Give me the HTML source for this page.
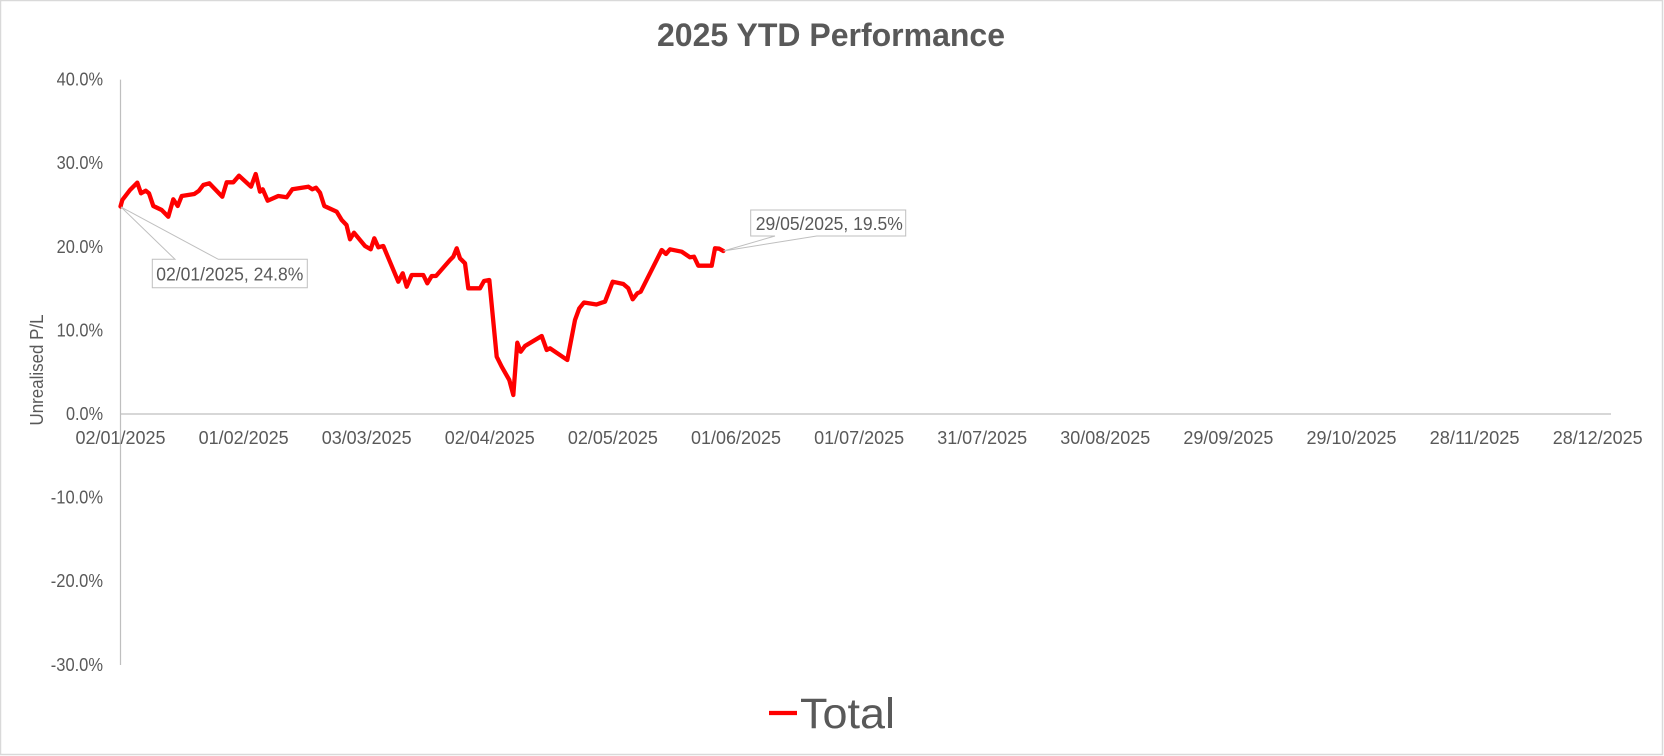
<!DOCTYPE html>
<html>
<head>
<meta charset="utf-8">
<style>
  html, body { margin: 0; padding: 0; background: #ffffff; }
  svg { display: block; }
  text { font-family: "Liberation Sans", "DejaVu Sans", sans-serif; fill: #595959; }
</style>
</head>
<body>
<svg width="1664" height="756" viewBox="0 0 1664 756" xmlns="http://www.w3.org/2000/svg">
  <rect x="0" y="0" width="1664" height="756" fill="#ffffff"/>
  <rect x="0.5" y="0.5" width="1662" height="754" fill="none" stroke="#d9d9d9" stroke-width="1.5"/>

  <!-- Title -->
  <text x="831" y="46" font-size="32" font-weight="bold" text-anchor="middle" textLength="348" lengthAdjust="spacingAndGlyphs">2025 YTD Performance</text>

  <!-- Axis title -->
  <text transform="translate(43,370) rotate(-90)" font-size="18" text-anchor="middle" textLength="111" lengthAdjust="spacingAndGlyphs">Unrealised P/L</text>

  <!-- Y axis labels -->
  <g font-size="18" text-anchor="end">
    <text x="103" y="85.6" textLength="46.4" lengthAdjust="spacingAndGlyphs">40.0%</text>
    <text x="103" y="169.2" textLength="46.4" lengthAdjust="spacingAndGlyphs">30.0%</text>
    <text x="103" y="252.8" textLength="46.4" lengthAdjust="spacingAndGlyphs">20.0%</text>
    <text x="103" y="336.4" textLength="46.4" lengthAdjust="spacingAndGlyphs">10.0%</text>
    <text x="103" y="420" textLength="37" lengthAdjust="spacingAndGlyphs">0.0%</text>
    <text x="103" y="503.6" textLength="52.2" lengthAdjust="spacingAndGlyphs">-10.0%</text>
    <text x="103" y="587.2" textLength="52.2" lengthAdjust="spacingAndGlyphs">-20.0%</text>
    <text x="103" y="670.8" textLength="52.2" lengthAdjust="spacingAndGlyphs">-30.0%</text>
  </g>

  <!-- Axes -->
  <line x1="120.5" y1="79.6" x2="120.5" y2="665" stroke="#bfbfbf" stroke-width="1.2"/>
  <line x1="120.5" y1="414" x2="1611" y2="414" stroke="#bfbfbf" stroke-width="1.2"/>

  <!-- X axis labels -->
  <g font-size="18" text-anchor="middle">
    <text x="120.5" y="444" textLength="90" lengthAdjust="spacingAndGlyphs">02/01/2025</text>
    <text x="243.6" y="444" textLength="90" lengthAdjust="spacingAndGlyphs">01/02/2025</text>
    <text x="366.7" y="444" textLength="90" lengthAdjust="spacingAndGlyphs">03/03/2025</text>
    <text x="489.8" y="444" textLength="90" lengthAdjust="spacingAndGlyphs">02/04/2025</text>
    <text x="612.9" y="444" textLength="90" lengthAdjust="spacingAndGlyphs">02/05/2025</text>
    <text x="736" y="444" textLength="90" lengthAdjust="spacingAndGlyphs">01/06/2025</text>
    <text x="859.1" y="444" textLength="90" lengthAdjust="spacingAndGlyphs">01/07/2025</text>
    <text x="982.2" y="444" textLength="90" lengthAdjust="spacingAndGlyphs">31/07/2025</text>
    <text x="1105.3" y="444" textLength="90" lengthAdjust="spacingAndGlyphs">30/08/2025</text>
    <text x="1228.4" y="444" textLength="90" lengthAdjust="spacingAndGlyphs">29/09/2025</text>
    <text x="1351.5" y="444" textLength="90" lengthAdjust="spacingAndGlyphs">29/10/2025</text>
    <text x="1474.6" y="444" textLength="90" lengthAdjust="spacingAndGlyphs">28/11/2025</text>
    <text x="1597.7" y="444" textLength="90" lengthAdjust="spacingAndGlyphs">28/12/2025</text>
  </g>

  <!-- Series -->
  <polyline fill="none" stroke="#ff0000" stroke-width="4.3" stroke-linejoin="round" stroke-linecap="round"
    points="120.5,206.5 122.3,200 130,190 137.3,182.7 141,193.3 145.7,190.7 149,193.3 153.3,206 161.7,210 168.3,216.7 173.3,199.3 177.7,206 181.7,196 194.3,194 199,190.7 203.3,185 209.3,183.3 222.3,196.7 226.7,182.3 233.3,182.3 239,175.7 251,186.7 255.7,174 260,191.7 262.7,189.3 267.7,200.7 278.3,196 286.7,197.3 292.3,189.3 308.3,186.7 312.3,189.3 316,187.7 320,192.7 324.3,206 336.7,211.7 341.7,220 346.5,225 350,239.3 354,232.7 365,246 370.7,249.3 374.3,238.3 378.3,247.3 383.3,246 398.3,281.7 402.7,273.3 406.7,286.7 411.7,275 423.3,275 427.3,283.3 431.7,276 436,276 450,260 453.3,256.7 456.7,248.3 460,258.3 465,263.3 468.3,288.3 480,288.3 484,281 489.3,280 496.7,356.7 501.7,366.7 509.3,380 513.3,395 517.3,342.7 520.7,351.7 525,346 541.7,336 546.7,350 550,348.3 567.3,360 575,320 579.3,308.3 584,302.5 596.5,304.5 601.7,302.7 605,301.7 612.7,281.7 623.3,284 628.3,288.3 632.7,299.3 637.3,293.3 640.7,291.7 661.7,250 666,254 670,249.3 681.7,251.7 690,257.3 694,256.7 698.3,265.7 711.7,265.7 715,248.3 719.3,248.7 723.3,251"/>

  <!-- Callout 1 -->
  <path d="M152.3,259.3 L175,259.3 L121,207 L218.3,259.3 L307.3,259.3 L307.3,287.7 L152.3,287.7 Z" fill="#ffffff" stroke="#bfbfbf" stroke-width="1"/>
  <text x="229.8" y="280.5" font-size="18" text-anchor="middle" textLength="147" lengthAdjust="spacingAndGlyphs">02/01/2025, 24.8%</text>

  <!-- Callout 2 -->
  <path d="M750.7,210 L905.7,210 L905.7,236 L816.7,236 L723.5,251 L775,236 L750.7,236 Z" fill="#ffffff" stroke="#bfbfbf" stroke-width="1"/>
  <text x="829.3" y="230" font-size="18" text-anchor="middle" textLength="147" lengthAdjust="spacingAndGlyphs">29/05/2025, 19.5%</text>

  <!-- Legend -->
  <line x1="769" y1="713" x2="797" y2="713" stroke="#ff0000" stroke-width="4.3"/>
  <text x="800" y="728" font-size="43" textLength="95" lengthAdjust="spacingAndGlyphs">Total</text>
</svg>
</body>
</html>
